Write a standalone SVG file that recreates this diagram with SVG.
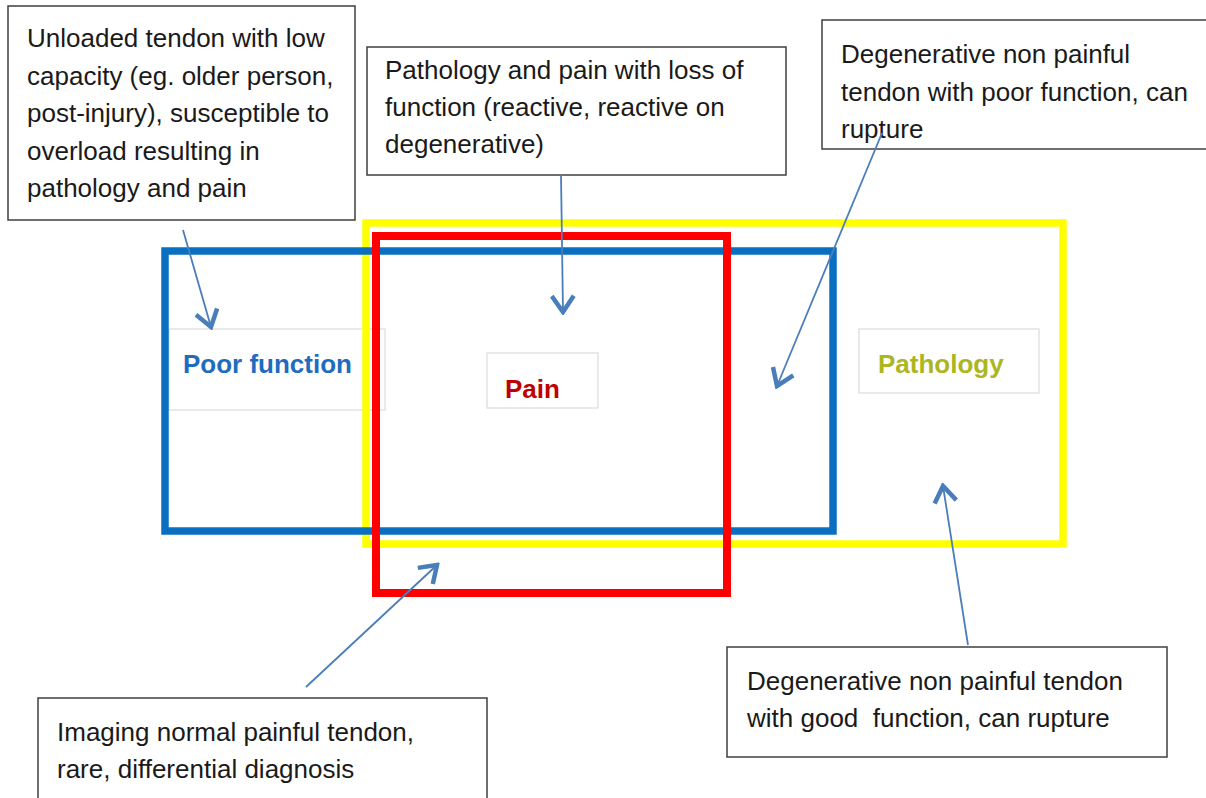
<svg xmlns="http://www.w3.org/2000/svg" width="1206" height="798" viewBox="0 0 1206 798">
<style>
.box{fill:#fff;stroke:#3f3f3f;stroke-width:1.5}
.lbl{fill:#fff;stroke:#d4d4d4;stroke-width:1}
.t{font-family:"Liberation Sans",Arial,sans-serif;font-size:26px;fill:#1a1a1a;white-space:pre}
.b{font-family:"Liberation Sans",Arial,sans-serif;font-size:26px;font-weight:bold}
.conn{stroke:#4a7ebb;stroke-width:1.8;fill:none;marker-end:url(#arr)}
</style>
<defs>
<marker id="arr" viewBox="0 0 26 26" refX="23" refY="13" markerWidth="26" markerHeight="26" markerUnits="userSpaceOnUse" orient="auto">
<path d="M7,2 L23,13 L7,24" fill="none" stroke="#4a7ebb" stroke-width="4.5" stroke-linejoin="miter"/>
</marker>
</defs>
<rect width="1206" height="798" fill="#fff"/>

<g id="label-poor-function">
<rect class="lbl" x="169" y="329" width="216" height="81"/>
<text class="b" x="183" y="373" fill="#1f6cbf">Poor function</text>
</g>
<g id="label-pain">
<rect class="lbl" x="487" y="353" width="111" height="55"/>
<text class="b" x="505" y="398" fill="#c00000">Pain</text>
</g>
<g id="label-pathology">
<rect class="lbl" x="859" y="329" width="180" height="64"/>
<text class="b" x="878" y="373" fill="#adb51f">Pathology</text>
</g>

<g id="set-pathology"><rect x="366" y="223" width="697" height="321" fill="none" stroke="#ffff00" stroke-width="7.5"/></g>
<g id="set-poor-function"><rect x="165" y="251" width="668" height="280" fill="none" stroke="#0b6fc1" stroke-width="7.5"/></g>
<g id="set-pain"><rect x="376" y="236" width="351" height="357" fill="none" stroke="#ff0000" stroke-width="8"/></g>

<g id="note-unloaded">
<rect class="box" x="8" y="6" width="347" height="214"/>
<text class="t" x="27" y="47">Unloaded tendon with low</text>
<text class="t" x="27" y="85">capacity (eg. older person,</text>
<text class="t" x="27" y="122">post-injury), susceptible to</text>
<text class="t" x="27" y="160">overload resulting in</text>
<text class="t" x="27" y="197">pathology and pain</text>
</g>
<g id="note-pathology-pain">
<rect class="box" x="367" y="47" width="419" height="128"/>
<text class="t" x="385" y="79">Pathology and pain with loss of</text>
<text class="t" x="385" y="116">function (reactive, reactive on</text>
<text class="t" x="385" y="153">degenerative)</text>
</g>
<g id="note-degenerative-poor">
<rect class="box" x="822" y="20" width="400" height="129"/>
<text class="t" x="841" y="63">Degenerative non painful</text>
<text class="t" x="841" y="101">tendon with poor function, can</text>
<text class="t" x="841" y="138">rupture</text>
</g>
<g id="note-imaging-normal">
<rect class="box" x="38" y="698" width="449" height="120"/>
<text class="t" x="57" y="741">Imaging normal painful tendon,</text>
<text class="t" x="57" y="778">rare, differential diagnosis</text>
</g>
<g id="note-degenerative-good">
<rect class="box" x="727" y="647" width="440" height="110"/>
<text class="t" x="747" y="690">Degenerative non painful tendon</text>
<text class="t" x="747" y="727">with good  function, can rupture</text>
</g>

<g id="connectors">
<line class="conn" x1="183" y1="230" x2="211" y2="327"/>
<line class="conn" x1="561" y1="175" x2="563" y2="312"/>
<line class="conn" x1="882" y1="133" x2="777" y2="386"/>
<line class="conn" x1="306" y1="687" x2="437" y2="565"/>
<line class="conn" x1="968" y1="645" x2="943" y2="486"/>
</g>
</svg>
